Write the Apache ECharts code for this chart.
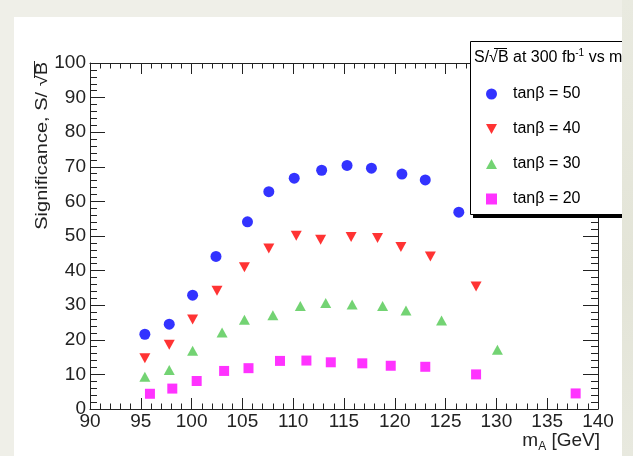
<!DOCTYPE html>
<html>
<head>
<meta charset="utf-8">
<script src="https://cdn.jsdelivr.net/npm/echarts@6/dist/echarts.min.js"></script>
<style>
  html, body { margin: 0; padding: 0; background: #efefe8; overflow: hidden; }
  #panel { position: absolute; left: 14px; top: 17px; width: 608px; height: 439px; background: #ffffff; }
  #strip { position: absolute; left: 622px; top: 0; width: 11px; height: 456px;
           background: linear-gradient(180deg, #e9eae0 0%, #e3e4d7 60%, #e8e9df 100%); }
  #c { position: absolute; left: 0; top: 0; width: 622px; height: 456px; }
</style>
</head>
<body>
<div id="panel"></div>
<div id="strip"></div>
<div id="c"></div>
<script>
// Axis ranges (m_A in GeV, significance S/sqrt(B))
const massRange = [90, 140];
const massStep = 5;
const sigRange = [0, 100];
const sigStep = 10;

// Series names
const seriesNames = ['tanβ = 50', 'tanβ = 40', 'tanβ = 30', 'tanβ = 20'];

// tanβ = 50
const mA_tb50  = [95.4, 97.8, 100.1, 102.4, 105.5, 107.6, 110.1, 112.8, 115.3, 117.7, 120.7, 123.0, 126.3];
const sig_tb50 = [21.6, 24.5, 32.9, 44.1, 54.1, 62.8, 66.7, 69.0, 70.4, 69.6, 67.9, 66.2, 56.9];

// tanβ = 40
const mA_tb40  = [95.4, 97.8, 100.1, 102.5, 105.2, 107.6, 110.3, 112.7, 115.7, 118.3, 120.6, 123.5, 128.0];
const sig_tb40 = [14.7, 18.6, 25.9, 34.2, 41.0, 46.4, 50.1, 48.9, 49.7, 49.4, 46.8, 44.1, 35.4];

// tanβ = 30
const mA_tb30  = [95.4, 97.8, 100.1, 103.0, 105.2, 108.0, 110.7, 113.2, 115.8, 118.8, 121.1, 124.6, 130.1];
const sig_tb30 = [9.3, 11.3, 16.8, 22.1, 25.8, 27.1, 29.8, 30.6, 30.2, 29.8, 28.5, 25.6, 17.1];

// tanβ = 20
const mA_tb20  = [95.9, 98.1, 100.5, 103.2, 105.6, 108.7, 111.3, 113.7, 116.8, 119.6, 123.0, 128.0, 137.8];
const sig_tb20 = [4.4, 5.9, 8.1, 11.0, 11.8, 13.9, 14.0, 13.5, 13.2, 12.5, 12.2, 10.0, 4.5];

const zip = (xs, ys) => xs.map((x, i) => [x, ys[i]]);

const FONT = 'Liberation Sans, Arial, sans-serif';
const AXIS_COLOR = '#222';

// marker shapes shared by the series and their legend entries
const TRI_DOWN = 'path://M0,0 L11,0 L5.5,10 Z';
const TRI_UP = 'path://M5.5,0 L11,10 L0,10 Z';

function makeAxis(kind, pos, showLabels) {
  const isX = kind === 'x';
  return {
    type: 'value',
    position: pos,
    min: isX ? massRange[0] : sigRange[0],
    max: isX ? massRange[1] : sigRange[1],
    interval: isX ? massStep : sigStep,
    axisLine: { show: true, onZero: false, lineStyle: { color: AXIS_COLOR, width: 1 } },
    axisTick: { show: true, inside: true, length: isX ? 11 : 15, lineStyle: { color: AXIS_COLOR, width: 1 } },
    minorTick: { show: true, splitNumber: 5, length: isX ? 5.5 : 7, lineStyle: { color: AXIS_COLOR, width: 1 } },
    splitLine: { show: false },
    minorSplitLine: { show: false },
    axisLabel: {
      show: showLabels,
      margin: isX ? 3 : 4,
      fontSize: 19,
      color: AXIS_COLOR,
      fontFamily: FONT,
      showMinLabel: true,
      showMaxLabel: true
    }
  };
}

const chart = echarts.init(document.getElementById('c'), null, { renderer: 'canvas' });

const option = {
  backgroundColor: 'transparent',
  animation: false,
  grid: { left: 90, right: 24, top: 63, bottom: 47, containLabel: false },
  xAxis: [makeAxis('x', 'bottom', true), makeAxis('x', 'top', false)],
  yAxis: [makeAxis('y', 'left', true), makeAxis('y', 'right', false)],
  legend: {
    orient: 'vertical',
    left: 486,
    top: 86,
    padding: 0,
    itemWidth: 11,
    itemHeight: 11,
    itemGap: 19,
    selectedMode: false,
    z: 20,
    textStyle: { fontSize: 16, color: '#000', fontFamily: FONT, padding: [0, 0, 0, 11] },
    data: [
      { name: seriesNames[0], icon: 'circle' },
      { name: seriesNames[1], icon: TRI_DOWN },
      { name: seriesNames[2], icon: TRI_UP },
      { name: seriesNames[3], icon: 'rect' }
    ]
  },
  series: [
    { name: seriesNames[0], type: 'scatter', symbol: 'circle', symbolSize: 11,
      itemStyle: { color: '#0000ff' }, data: zip(mA_tb50, sig_tb50) },
    { name: seriesNames[1], type: 'scatter', symbol: TRI_DOWN, symbolSize: [11, 10],
      itemStyle: { color: '#ff0000' }, data: zip(mA_tb40, sig_tb40) },
    { name: seriesNames[2], type: 'scatter', symbol: TRI_UP, symbolSize: [11, 10],
      itemStyle: { color: '#50c850' }, data: zip(mA_tb30, sig_tb30) },
    { name: seriesNames[3], type: 'scatter', symbol: 'rect', symbolSize: 10,
      itemStyle: { color: '#ff00ff' }, data: zip(mA_tb20, sig_tb20) }
  ],
  graphic: [
    // legend box shadow and frame
    { type: 'rect', z: 10, shape: { x: 473, y: 214, width: 200, height: 4 }, style: { fill: '#000' } },
    { type: 'rect', z: 11, shape: { x: 470.5, y: 41.5, width: 200, height: 173 },
      style: { fill: '#fff', stroke: '#000', lineWidth: 1 } },
    // legend title
    { type: 'text', z: 21, x: 474, y: 58,
      style: {
        text: '{t|S/√B at 300 fb}{s|-1}{t| vs m}{a|A}',
        verticalAlign: 'middle',
        rich: {
          t: { fontSize: 16, fontFamily: FONT, fill: '#000' },
          s: { fontSize: 10, fontFamily: FONT, fill: '#000', padding: [0, 0, 9, 0] },
          a: { fontSize: 11, fontFamily: FONT, fill: '#000', padding: [9, 0, 0, 0] }
        }
      } },
    { type: 'line', z: 21, shape: { x1: 494, y1: 48.5, x2: 507, y2: 48.5 }, style: { stroke: '#000', lineWidth: 1 } },
    // y axis title
    { type: 'text', z: 5, x: 43, y: 62, rotation: Math.PI / 2, scaleX: 1.25,
      style: { text: 'Significance, S/ √B', fontSize: 16, fontFamily: FONT, fill: '#222',
               align: 'right', verticalAlign: 'middle' } },
    { type: 'line', z: 5, shape: { x1: 34.5, y1: 61, x2: 34.5, y2: 78 }, style: { stroke: '#222', lineWidth: 1 } },
    // x axis title
    { type: 'text', z: 5, x: 600, y: 441,
      style: {
        text: '{m|m}{a|A}{m| [GeV]}',
        align: 'right', verticalAlign: 'middle',
        rich: {
          m: { fontSize: 19, fontFamily: FONT, fill: '#222' },
          a: { fontSize: 12, fontFamily: FONT, fill: '#222', padding: [12, 0, 0, 0] }
        }
      } }
  ]
};

chart.setOption(option);
</script>
</body>
</html>
